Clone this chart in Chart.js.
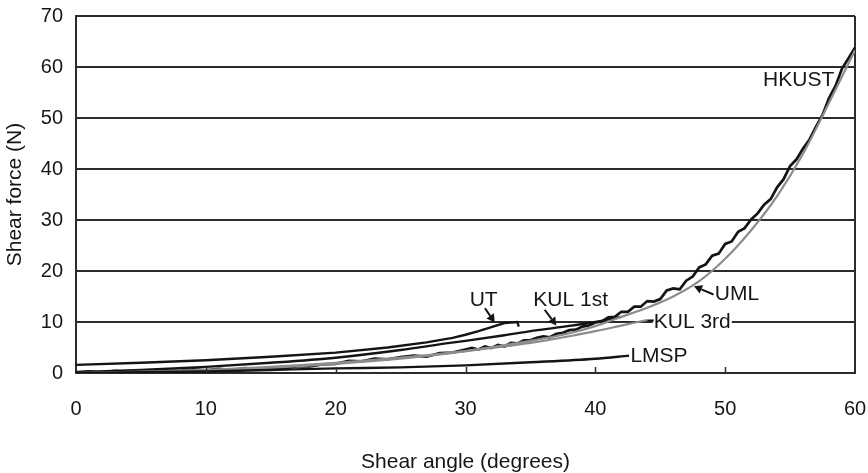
<!DOCTYPE html>
<html>
<head>
<meta charset="utf-8">
<script src="https://cdn.jsdelivr.net/npm/chart.js@4.4.0/dist/chart.umd.min.js"></script>
<style>
  html, body { margin: 0; padding: 0; background: #fff; }
  #wrap { width: 868px; height: 473px; }
</style>
</head>
<body>
<div id="wrap"><canvas id="shear" width="868" height="473"></canvas></div>
<script>
// Shear force vs shear angle, one curve per lab
const hkustAngle = [0, 1, 2, 3, 4, 5, 6, 7, 8, 9, 10, 11, 12, 13, 14, 15, 16, 17, 18, 19,
  20, 21, 22, 23, 24, 25, 26, 27, 28, 29, 30, 30.5, 31, 31.5, 32, 32.5, 33, 33.5, 34, 34.5,
  35, 35.5, 36, 36.5, 37, 37.5, 38, 38.5, 39, 39.5, 40, 40.5, 41, 41.5, 42, 42.5, 43, 43.5,
  44, 44.5, 45, 45.5, 46, 46.5, 47, 47.5, 48, 48.5, 49, 49.5, 50, 50.5, 51, 51.5, 52, 52.5,
  53, 53.5, 54, 54.5, 55, 55.5, 56, 56.5, 57, 57.5, 58, 58.5, 59, 59.5, 60];
const hkustForce = [0.1, 0.3, 0.1, 0.4, 0.2, 0.5, 0.3, 0.6, 0.4, 0.7, 0.5, 0.8, 0.6, 0.95, 0.75, 1.1, 0.9, 1.3, 1.3, 1.7,
  1.8, 2.4, 2.3, 2.8, 2.7, 3.1, 3.4, 3.2, 3.9, 4.0, 4.6, 4.9, 4.6, 5.2, 4.9, 5.5, 5.2, 5.9, 5.8, 6.4,
  6.4, 6.9, 7.2, 7.0, 7.7, 7.9, 8.4, 8.5, 9.1, 9.3, 9.9, 10.1, 10.9, 11.0, 12.0, 12.0, 13.0, 13.0,
  14.1, 14.0, 14.5, 16.2, 16.6, 16.4, 18.1, 18.9, 20.7, 21.3, 23.0, 23.4, 25.3, 25.8, 27.7, 28.4, 30.1, 31.3,
  33.0, 34.1, 36.4, 38.0, 40.6, 41.9, 44.0, 45.8, 48.3, 50.6, 53.9, 56.3, 59.7, 61.7, 63.8];

const umlAngle = [0, 10, 20, 25, 30, 35, 38, 40, 42, 44, 46, 48, 50, 52, 54, 56, 58, 60];
const umlForce = [0, 0.5, 1.8, 2.8, 4.3, 6.3, 7.8, 9.2, 11.0, 12.8, 15.0, 18.0, 22.4, 28.0, 34.7, 43.0, 53.0, 63.3];

const kul3Angle = [0, 10, 20, 25, 30, 35, 38, 40, 42, 44];
const kul3Force = [0, 0.6, 2.0, 3.0, 4.3, 5.9, 7.2, 8.2, 9.3, 10.4];

const kul1Angle = [0, 5, 10, 15, 20, 25, 28.8, 30, 33, 35, 37.3, 40, 42];
const kul1Force = [0.2, 0.6, 1.2, 2.0, 3.0, 4.5, 5.9, 6.3, 7.4, 8.2, 9.0, 10.0, 11.0];

const utAngle = [0, 5, 10, 15, 20, 24, 27, 29, 30, 31, 32, 33, 34, 34.1];
const utForce = [1.6, 2.0, 2.5, 3.2, 4.0, 5.0, 6.0, 6.9, 7.5, 8.2, 9.0, 9.8, 10.0, 9.1];

const lmspAngle = [0, 10, 15, 20, 25, 30, 35, 40, 42.6];
const lmspForce = [0, 0.3, 0.6, 0.9, 1.1, 1.5, 2.1, 2.8, 3.4];

const xTicks = [0, 10, 20, 30, 40, 50, 60];
const yTicks = [0, 10, 20, 30, 40, 50, 60, 70];

const pts = (xs, ys) => xs.map((x, i) => ({ x: x, y: ys[i] }));

// curve names with their arrows / leaders (data units)
const curveNotes = [
  { text: 'HKUST', x: 58.4, y: 57.4, right: true },
  { text: 'UT', x: 31.4, y: 14.3, center: true, arrow: [31.5, 12.7, 32.25, 9.9] },
  { text: 'KUL 1st', x: 38.1, y: 14.3, center: true, arrow: [36.1, 12.4, 37.0, 9.3] },
  { text: 'UML', x: 49.2, y: 15.4, arrow: [49.1, 15.4, 47.6, 17.0] },
  { text: 'KUL 3rd', x: 44.5, y: 10.0, box: true, leader: [44.0, 10.3, 44.5, 10.3] },
  { text: 'LMSP', x: 42.7, y: 3.2 }
];

const INK = '#141414';
const GRID = '#2c2c2c';
const TEXT = '#161616';
const FONT = "'Liberation Sans', Arial, sans-serif";

const notesPlugin = {
  id: 'notes',
  afterDatasetsDraw(chart) {
    const { ctx, scales: { x, y } } = chart;
    ctx.save();
    // small inward ticks along the angle axis
    ctx.strokeStyle = GRID;
    ctx.lineWidth = 1.5;
    xTicks.slice(1, -1).forEach(v => {
      const px = Math.round(x.getPixelForValue(v)) + 0.5;
      ctx.beginPath();
      ctx.moveTo(px, y.bottom);
      ctx.lineTo(px, y.bottom - 6);
      ctx.stroke();
    });

    ctx.font = '21px ' + FONT;
    ctx.textBaseline = 'middle';
    ctx.textAlign = 'left';
    curveNotes.forEach(n => {
      const px = x.getPixelForValue(n.x);
      const py = y.getPixelForValue(n.y);
      const w = ctx.measureText(n.text).width;
      let left = px;
      if (n.center) left = px - w / 2;
      if (n.right) left = px - w;
      if (n.box) {
        ctx.fillStyle = '#fff';
        ctx.fillRect(left - 1, py - 10, w + 2, 20);
      }
      ctx.fillStyle = TEXT;
      ctx.fillText(n.text, left, py);

      ctx.strokeStyle = INK;
      ctx.lineWidth = 2;
      if (n.leader) {
        const [a, b, c, d] = n.leader;
        ctx.beginPath();
        ctx.moveTo(x.getPixelForValue(a), y.getPixelForValue(b));
        ctx.lineTo(x.getPixelForValue(c), y.getPixelForValue(d));
        ctx.stroke();
      }
      if (n.arrow) {
        const [a, b, c, d] = n.arrow;
        const x0 = x.getPixelForValue(a), y0 = y.getPixelForValue(b);
        const x1 = x.getPixelForValue(c), y1 = y.getPixelForValue(d);
        const ang = Math.atan2(y1 - y0, x1 - x0);
        const hl = 8, hw = 4.5;
        const bx = x1 - hl * Math.cos(ang), by = y1 - hl * Math.sin(ang);
        ctx.beginPath();
        ctx.moveTo(x0, y0);
        ctx.lineTo(bx, by);
        ctx.stroke();
        ctx.fillStyle = INK;
        ctx.beginPath();
        ctx.moveTo(x1, y1);
        ctx.lineTo(bx + hw * Math.sin(ang), by - hw * Math.cos(ang));
        ctx.lineTo(bx - hw * Math.sin(ang), by + hw * Math.cos(ang));
        ctx.closePath();
        ctx.fill();
      }
    });
    ctx.restore();
  }
};

const series = (data, color, width, smooth) => ({
  data: data,
  borderColor: color,
  borderWidth: width,
  pointRadius: 0,
  fill: false,
  tension: 0,
  cubicInterpolationMode: smooth ? 'monotone' : 'default'
});

new Chart(document.getElementById('shear'), {
  type: 'line',
  data: {
    datasets: [
      series(pts(lmspAngle, lmspForce), INK, 2.4, true),
      series(pts(kul3Angle, kul3Force), '#8c8c8c', 2.2, true),
      series(pts(umlAngle, umlForce), '#8c8c8c', 2.2, true),
      series(pts(kul1Angle, kul1Force), INK, 2.4, true),
      series(pts(utAngle, utForce), INK, 2.4, false),
      series(pts(hkustAngle, hkustForce), INK, 2.7, false)
    ]
  },
  options: {
    responsive: false,
    animation: false,
    layout: { padding: { left: 0, right: 13, top: 16, bottom: 0 } },
    plugins: { legend: { display: false }, tooltip: { enabled: false } },
    scales: {
      x: {
        type: 'linear',
        min: 0,
        max: 60,
        afterBuildTicks: s => { s.ticks = xTicks.map(v => ({ value: v })); },
        afterFit: s => { s.height = 100; s.paddingLeft = 0; s.paddingRight = 0; },
        grid: {
          drawTicks: false,
          lineWidth: 2,
          color: c => (c.tick && c.tick.value === 60 ? GRID : 'rgba(0,0,0,0)')
        },
        border: { color: GRID, width: 2 },
        ticks: { padding: 24, color: TEXT, font: { family: FONT, size: 20 } },
        title: {
          display: true,
          text: 'Shear angle (degrees)',
          color: TEXT,
          font: { family: FONT, size: 21, lineHeight: 1 },
          padding: { top: 0, bottom: 0 }
        }
      },
      y: {
        min: 0,
        max: 70,
        afterBuildTicks: s => { s.ticks = yTicks.map(v => ({ value: v })); },
        afterFit: s => { s.width = 76; s.paddingTop = 0; s.paddingBottom = 0; },
        grid: { drawTicks: false, color: GRID, lineWidth: 2 },
        border: { color: GRID, width: 2 },
        ticks: { padding: 13, color: TEXT, font: { family: FONT, size: 20 } },
        title: {
          display: true,
          text: 'Shear force (N)',
          color: TEXT,
          font: { family: FONT, size: 21, lineHeight: 1 },
          padding: { top: 5, bottom: 0 }
        }
      }
    }
  },
  plugins: [notesPlugin]
});
</script>
</body>
</html>
